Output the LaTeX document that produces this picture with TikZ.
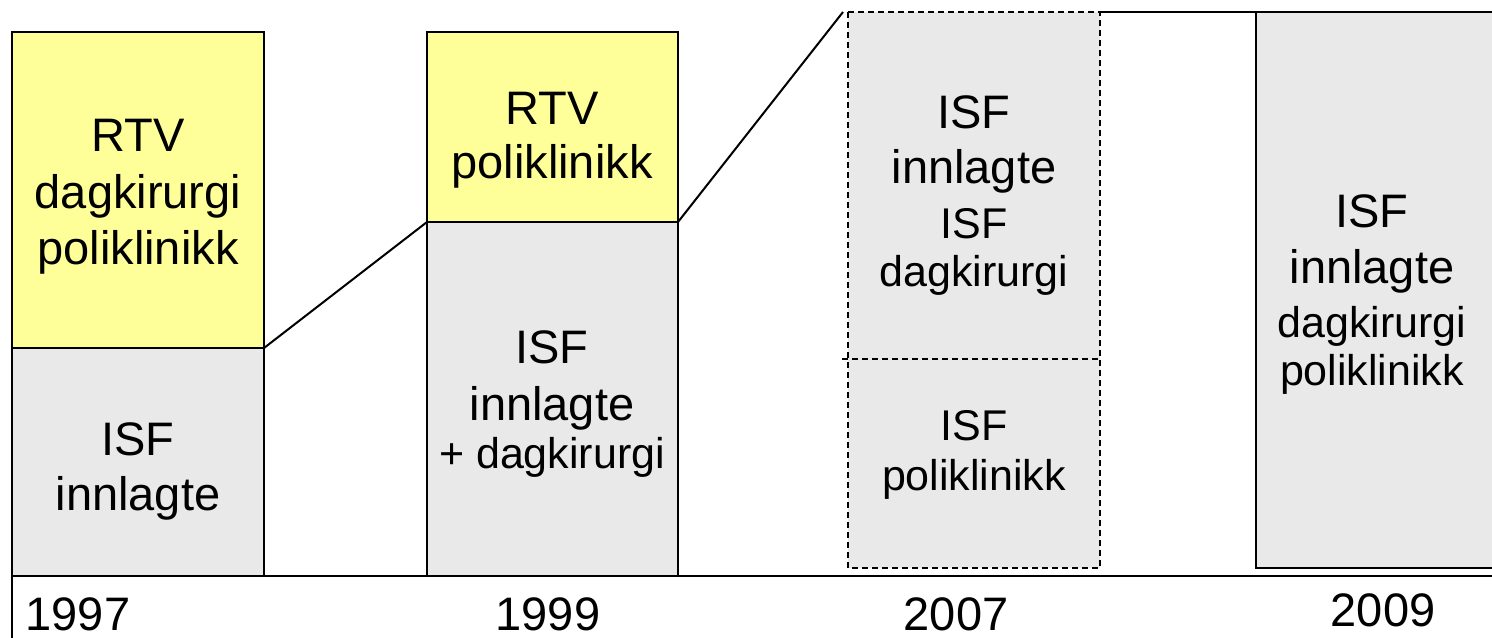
\documentclass[tikz,border=0pt]{standalone}
\usepackage{fontspec}
\setmainfont{Liberation Sans}
\definecolor{boxyellow}{HTML}{FFFF99}
\definecolor{boxgray}{HTML}{E9E9E9}
\begin{document}
\begin{tikzpicture}[x=0.5pt,y=-0.5pt,
  box/.style={rectangle,draw=black,line width=1pt,inner sep=0pt,outer sep=0pt},
  ybox/.style={box,fill=boxyellow},
  gbox/.style={box,fill=boxgray},
  dbox/.style={rectangle,fill=boxgray,draw=none,inner sep=0pt,outer sep=0pt},
  dline/.style={line width=1pt,dash pattern=on 3pt off 2pt},
  conn/.style={line width=1pt},
  big/.style={font=\fontsize{23.5}{28}\selectfont,anchor=base,inner sep=0pt},
  small/.style={font=\fontsize{21.5}{26}\selectfont,anchor=base,inner sep=0pt}]
\useasboundingbox (0,0) rectangle (1492,637);
\clip (0,0) rectangle (1492,637);
% 1997
\node[ybox,minimum width=126pt,minimum height=158pt] (b97y) at (138,190) {};
\node[gbox,minimum width=126pt,minimum height=114pt] (b97g) at (138,462) {};
% 1999
\node[ybox,minimum width=125.5pt,minimum height=95pt] (b99y) at (552.5,127) {};
\node[gbox,minimum width=125.5pt,minimum height=177pt] (b99g) at (552.5,399) {};
% 2007
\node[dbox,minimum width=126pt,minimum height=173.5pt] (b07u) at (974,185.5) {};
\node[dbox,minimum width=126pt,minimum height=104.5pt] (b07l) at (974,463.5) {};
\draw[dline] (b07u.north west) rectangle (b07l.south east);
\coordinate (mid07) at (842,359);
\draw[dline] (mid07) -- (b07u.south east);
% 2009
\node[gbox,minimum width=119pt,minimum height=278pt] (b09) at (1375,290) {};
% connectors
\coordinate (top07) at (843,12);
\draw[conn] (b97y.south east) -- (b99y.south west);
\draw[conn] (b99y.south east) -- (top07);
\draw[conn] (b07u.north east) -- (b09.north west);
% axis
\coordinate (axo) at (12,576);
\coordinate (axr) at (1494,576);
\coordinate (axb) at (12,640);
\draw[conn] (axr) -- (axo) -- (axb);
% texts 1997
\node[big] (t1) at (138,151) {RTV};
\node[big] (t2) at (138,208) {dagkirurgi};
\node[big] (t3) at (138,264) {poliklinikk};
\node[big] (t4) at (138,455) {ISF};
\node[big] (t5) at (138,510) {innlagte};
% texts 1999
\node[big] (t6) at (552,124) {RTV};
\node[big] (t7) at (552,178) {poliklinikk};
\node[big] (t8) at (552,363) {ISF};
\node[big] (t9) at (552,420) {innlagte};
\node[small] (t10) at (552,468) {+ dagkirurgi};
% texts 2007
\node[big] (t11) at (974,128) {ISF};
\node[big] (t12) at (974,183) {innlagte};
\node[small] (t13) at (974,238) {ISF};
\node[small] (t14) at (974,286) {dagkirurgi};
\node[small] (t15) at (974,440) {ISF};
\node[small] (t16) at (974,490) {poliklinikk};
% texts 2009
\node[big] (t17) at (1372,227) {ISF};
\node[big] (t18) at (1372,283) {innlagte};
\node[small] (t19) at (1372,337) {dagkirurgi};
\node[small] (t20) at (1372,385) {poliklinikk};
% years
\node[big] (y97) at (78,630) {1997};
\node[big] (y99) at (548,630) {1999};
\node[big] (y07) at (956,630) {2007};
\node[big] (y09) at (1383,626) {2009};
\end{tikzpicture}
\end{document}
